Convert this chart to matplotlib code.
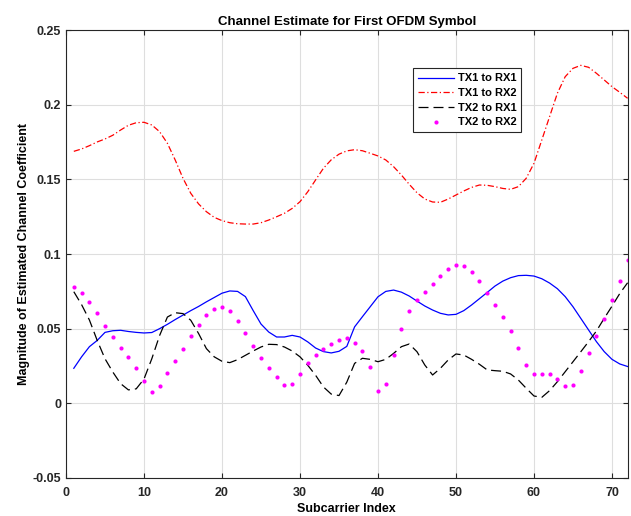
import numpy as np
import matplotlib
matplotlib.use('Agg')
from matplotlib import pyplot as plt

plt.rcParams['font.family'] = ['Liberation Sans', 'DejaVu Sans']
plt.rcParams['font.weight'] = 'bold'

subcarriers = np.arange(1, 73)

tx1_rx1 = [0.0233, 0.0310, 0.0378, 0.0420, 0.0474, 0.0485, 0.0488, 0.0480, 0.0474, 0.0470,
           0.0473, 0.0499, 0.0528, 0.0560, 0.0590, 0.0620, 0.0648, 0.0679, 0.0708, 0.0737,
           0.0752, 0.0749, 0.0714, 0.0620, 0.0530, 0.0476, 0.0443, 0.0443, 0.0454, 0.0443,
           0.0410, 0.0369, 0.0345, 0.0336, 0.0347, 0.0380, 0.0511, 0.0579, 0.0646, 0.0713,
           0.0749, 0.0758, 0.0744, 0.0718, 0.0684, 0.0651, 0.0624, 0.0602, 0.0591, 0.0595,
           0.0620, 0.0658, 0.0700, 0.0742, 0.0785, 0.0818, 0.0841, 0.0855, 0.0857, 0.0852,
           0.0834, 0.0805, 0.0767, 0.0714, 0.0646, 0.0568, 0.0490, 0.0412, 0.0345, 0.0293,
           0.0262, 0.0245]

tx1_rx2 = [0.1689, 0.1705, 0.1727, 0.1752, 0.1772, 0.1797, 0.1832, 0.1864, 0.1881, 0.1884,
           0.1866, 0.1821, 0.1743, 0.1631, 0.1508, 0.1407, 0.1336, 0.1284, 0.1246, 0.1224,
           0.1210, 0.1203, 0.1201, 0.1201, 0.1210, 0.1228, 0.1250, 0.1273, 0.1306, 0.1351,
           0.1418, 0.1497, 0.1575, 0.1632, 0.1670, 0.1692, 0.1700, 0.1693, 0.1676, 0.1658,
           0.1631, 0.1586, 0.1530, 0.1468, 0.1411, 0.1369, 0.1349, 0.1347, 0.1369, 0.1396,
           0.1423, 0.1447, 0.1463, 0.1461, 0.1452, 0.1440, 0.1434, 0.1452, 0.1508, 0.1609,
           0.1765, 0.1922, 0.2079, 0.2190, 0.2246, 0.2266, 0.2253, 0.2213, 0.2168, 0.2123,
           0.2085, 0.2045]

tx2_rx1 = [0.0747, 0.0660, 0.0557, 0.0420, 0.0297, 0.0208, 0.0130, 0.0088, 0.0095, 0.0161,
           0.0297, 0.0453, 0.0577, 0.0606, 0.0600, 0.0555, 0.0466, 0.0365, 0.0310, 0.0280,
           0.0271, 0.0291, 0.0320, 0.0349, 0.0376, 0.0394, 0.0392, 0.0376, 0.0349, 0.0310,
           0.0253, 0.0186, 0.0108, 0.0060, 0.0050, 0.0140, 0.0266, 0.0300, 0.0293, 0.0277,
           0.0293, 0.0333, 0.0378, 0.0396, 0.0344, 0.0255, 0.0188, 0.0233, 0.0289, 0.0329,
           0.0322, 0.0293, 0.0260, 0.0222, 0.0217, 0.0213, 0.0195, 0.0154, 0.0099, 0.0047,
           0.0038, 0.0083, 0.0143, 0.0210, 0.0277, 0.0344, 0.0412, 0.0483, 0.0568, 0.0650,
           0.0735, 0.0807]

tx2_rx2 = [0.0777, 0.0738, 0.0680, 0.0602, 0.0519, 0.0441, 0.0369, 0.0307, 0.0233, 0.0146,
           0.0076, 0.0112, 0.0201, 0.0284, 0.0362, 0.0447, 0.0526, 0.0591, 0.0633, 0.0646,
           0.0615, 0.0552, 0.0468, 0.0380, 0.0300, 0.0235, 0.0174, 0.0121, 0.0130, 0.0197,
           0.0270, 0.0322, 0.0360, 0.0396, 0.0423, 0.0435, 0.0405, 0.0351, 0.0242, 0.0078,
           0.0125, 0.0324, 0.0497, 0.0620, 0.0689, 0.0745, 0.0796, 0.0850, 0.0899, 0.0928,
           0.0922, 0.0881, 0.0819, 0.0738, 0.0658, 0.0577, 0.0481, 0.0367, 0.0257, 0.0197,
           0.0192, 0.0195, 0.0161, 0.0114, 0.0121, 0.0215, 0.0333, 0.0450, 0.0562, 0.0689,
           0.0821, 0.0958]

xticks = [0, 10, 20, 30, 40, 50, 60, 70]
yticks = [-0.05, 0, 0.05, 0.1, 0.15, 0.2, 0.25]
ytick_labels = ['-0.05', '0', '0.05', '0.1', '0.15', '0.2', '0.25']

fig = plt.figure(figsize=(6.31, 5.16), dpi=100)
ax = fig.add_axes([0.1046, 0.0746, 0.89, 0.8663])

ax.plot(subcarriers, tx1_rx1, color='#0000ff', lw=0.9, label='TX1 to RX1')
ax.plot(subcarriers, tx1_rx2, color='#ff0000', lw=0.9, dashes=(5, 2, 1, 2), label='TX1 to RX2')
ax.plot(subcarriers, tx2_rx1, color='black', lw=0.9, dashes=(8, 4), label='TX2 to RX1')
ax.plot(subcarriers, tx2_rx2, ls='none', marker='o', ms=3, mew=0, color='#ff00ff', label='TX2 to RX2')

ax.set_xlim(0, 72)
ax.set_ylim(-0.05, 0.25)
ax.set_xticks(xticks)
ax.set_yticks(yticks)
ax.set_yticklabels(ytick_labels)
ax.tick_params(direction='in', top=True, right=True, labelsize=9, length=3.5, width=0.8, colors='#262626')
ax.tick_params(axis='x', pad=7)
ax.grid(True, color='#dedede', lw=0.8)
ax.set_axisbelow(True)
for s in ax.spines.values():
    s.set_color('#262626')
    s.set_linewidth(0.8)

ax.set_title('Channel Estimate for First OFDM Symbol', fontsize=9.5, fontweight='bold', pad=4)
ax.set_xlabel('Subcarrier Index', fontsize=9, fontweight='bold', labelpad=3)
ax.set_ylabel('Magnitude of Estimated Channel Coefficient', fontsize=9, fontweight='bold', labelpad=2)

leg = ax.legend(loc='upper left', bbox_to_anchor=(0.617, 0.915), fontsize=8, frameon=True,
                fancybox=False, edgecolor='#262626', framealpha=1, borderpad=0.45,
                labelspacing=0.42, handlelength=3.3, handletextpad=0.3, borderaxespad=0)
leg.get_frame().set_linewidth(0.8)

fig.savefig('out.png', dpi=100)
